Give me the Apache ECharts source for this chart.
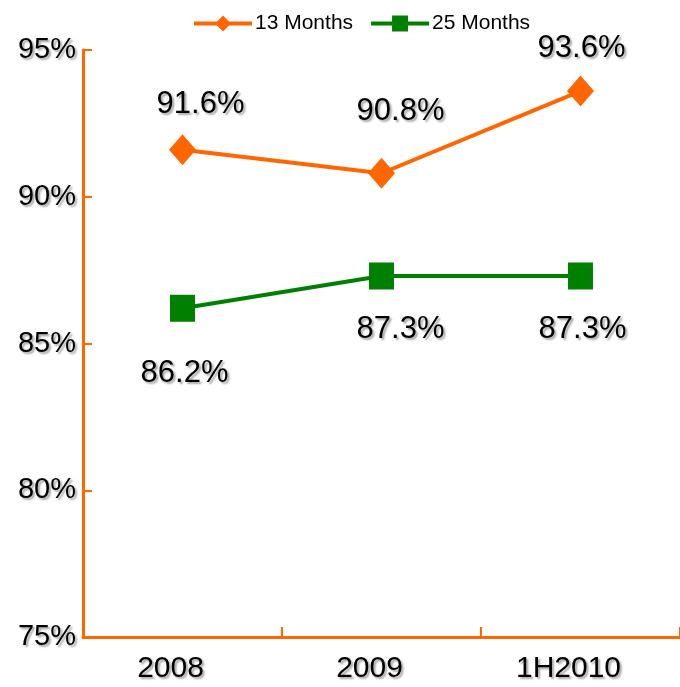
<!DOCTYPE html>
<html>
<head>
<meta charset="utf-8">
<script src="https://cdn.jsdelivr.net/npm/echarts@6/dist/echarts.min.js"></script>
<style>
  html, body { margin: 0; padding: 0; background: #fff; }
  #chart { width: 680px; height: 687px; }
</style>
</head>
<body>
<div id="chart"></div>
<script>
// Retention ratios by period
const categories = ['2008', '2009', '1H2010'];
const months13 = [91.6, 90.8, 93.6];
const months25 = [86.2, 87.3, 87.3];
const yTicks = [75, 80, 85, 90, 95];

// Label placement for each point (above for 13 months, below for 25 months)
const labelDist13 = [14, 31, 12];
const labelShift13 = [18, 19, 1];
const labelDist25 = [36, 24, 24];
const labelShift25 = [2, 19, 2];

const ORANGE = '#FF6600';
const GREEN = '#008000';
const FONT = '"Liberation Sans", Arial, sans-serif';

const shadow = {
  textShadowColor: 'rgba(0,0,0,0.35)',
  textShadowBlur: 2,
  textShadowOffsetX: 2,
  textShadowOffsetY: 2
};

const chart = echarts.init(document.getElementById('chart'));

function pointData(values, dists, shifts, pos) {
  return values.map((v, i) => ({
    value: v,
    label: { position: pos, distance: dists[i], offset: [shifts[i], 0] }
  }));
}

const valueLabel = {
  show: true,
  formatter: p => p.value.toFixed(1) + '%',
  color: '#000',
  fontFamily: FONT,
  fontSize: 31,
  ...shadow
};

chart.setOption({
  animation: false,
  grid: { left: 83, top: 50, width: 600, bottom: 50, containLabel: false },
  legend: {
    top: 8,
    left: 187,
    itemWidth: 58,
    itemHeight: 20,
    itemGap: 16,
    lineStyle: { width: 4 },
    textStyle: {
      fontFamily: '"Liberation Sans Narrow", "Arial Narrow", ' + FONT,
      fontSize: 21,
      color: '#000',
      padding: [0, 0, 0, -2]
    },
    data: ['13 Months', '25 Months']
  },
  xAxis: {
    type: 'category',
    data: categories,
    boundaryGap: true,
    axisLine: { lineStyle: { color: ORANGE, width: 3 } },
    axisTick: { show: true, inside: true, length: 10, lineStyle: { color: ORANGE, width: 2 } },
    axisLabel: {
      color: '#000',
      fontFamily: FONT,
      fontSize: 30,
      margin: 17,
      padding: [0, 24, 0, 0],
      ...shadow
    },
    splitLine: { show: false }
  },
  yAxis: {
    type: 'value',
    min: yTicks[0],
    max: yTicks[yTicks.length - 1],
    interval: 5,
    axisLine: { show: true, lineStyle: { color: ORANGE, width: 3 } },
    axisTick: { show: true, inside: true, length: 9, lineStyle: { color: ORANGE, width: 2 } },
    axisLabel: {
      formatter: '{value}%',
      color: '#000',
      fontFamily: FONT,
      fontSize: 29,
      margin: 7,
      padding: [8, 0, 0, 0],
      ...shadow
    },
    splitLine: { show: false }
  },
  series: [
    {
      name: '13 Months',
      type: 'line',
      data: pointData(months13, labelDist13, labelShift13, 'top'),
      symbol: 'diamond',
      symbolSize: [27, 31],
      lineStyle: { color: ORANGE, width: 4 },
      itemStyle: { color: ORANGE },
      label: valueLabel
    },
    {
      name: '25 Months',
      type: 'line',
      data: pointData(months25, labelDist25, labelShift25, 'bottom'),
      symbol: 'rect',
      symbolSize: [25, 27],
      lineStyle: { color: GREEN, width: 4 },
      itemStyle: { color: GREEN },
      label: valueLabel
    }
  ]
});
</script>
</body>
</html>
